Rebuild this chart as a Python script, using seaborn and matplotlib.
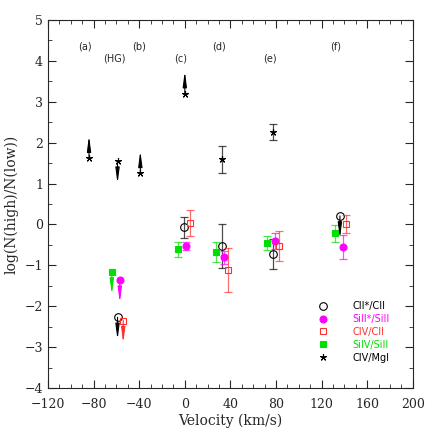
import numpy as np
import pandas as pd
import seaborn as sns
import matplotlib.pyplot as plt
from matplotlib.ticker import MultipleLocator

# ratio data: velocity (km/s), log ratio, error, limit flag
cii_v = [-59, -1, 33, 77, 136]
cii_y = [-2.27, -0.07, -0.53, -0.72, 0.21]
cii_e = [0, 0.25, 0.54, 0.36, 0]
cii_lim = ['down', None, None, None, 'down']

siii_v = [-57, 1, 34.6, 79.3, 138.4]
siii_y = [-1.36, -0.53, -0.80, -0.40, -0.55]
siii_e = [0, 0.1, 0.16, 0.2, 0.3]
siii_lim = ['down', None, None, None, None]

civc_v = [-54, 4.5, 37.8, 82.5, 141.3]
civc_y = [-2.35, 0.03, -1.12, -0.53, 0.0]
civc_e = [0, 0.32, 0.54, 0.37, 0.22]
civc_lim = ['down', None, None, None, None]

siiv_v = [-64, -6, 27.6, 72.3, 131.4]
siiv_y = [-1.16, -0.61, -0.67, -0.45, -0.22]
siiv_e = [0, 0.18, 0.25, 0.17, 0.2]
siiv_lim = ['down', None, None, None, None]

civm_v = [-84, -59, -39, 0, 33, 77]
civm_y = [1.62, 1.55, 1.25, 3.2, 1.6, 2.27]
civm_e = [0, 0, 0, 0, 0.33, 0.2]
civm_lim = ['up', 'down', 'up', 'up', None, None]

comp_labels = ['(a)', '(HG)', '(b)', '(c)', '(d)', '(e)', '(f)']
comp_v = [-88, -62, -40, -4, 30, 75, 132]
comp_y = [4.35, 4.05, 4.35, 4.05, 4.35, 4.05, 4.35]

series = [
    ('CII*/CII', cii_v, cii_y, cii_e, cii_lim, 'black', 'o', 'none', 5.5),
    ('SiII*/SiII', siii_v, siii_y, siii_e, siii_lim, '#ff00ff', 'o', '#ff00ff', 5),
    ('CIV/CII', civc_v, civc_y, civc_e, civc_lim, '#ff3030', 's', 'none', 4.3),
    ('SiIV/SiII', siiv_v, siiv_y, siiv_e, siiv_lim, '#00e000', 's', '#00e000', 4),
    ('CIV/MgI', civm_v, civm_y, civm_e, civm_lim, 'black', (5, 2, 0), 'black', 5),
]

sns.set_style('ticks')
plt.rcParams['font.family'] = ['DejaVu Serif']

fig = plt.figure(figsize=(4.36, 4.36), dpi=100)
ax = fig.add_axes([0.110, 0.110, 0.837, 0.844])

arrow_len = 0.55
handles = []
for name, v, y, e, lim, col, mk, fc, ms in series:
    df = pd.DataFrame({'v': v, 'y': y, 'e': e})
    has_err = df['e'] > 0
    ax.errorbar(df.loc[has_err, 'v'], df.loc[has_err, 'y'], yerr=df.loc[has_err, 'e'],
                fmt='none', ecolor=col, elinewidth=0.9, capsize=3, capthick=0.9, alpha=0.7)
    for vi, yi, li in zip(v, y, lim):
        if li is None:
            continue
        dy = arrow_len if li == 'up' else -arrow_len
        ax.annotate('', xy=(vi, yi + dy), xytext=(vi, yi),
                    arrowprops=dict(arrowstyle='-|>,head_length=0.9,head_width=0.12',
                                    color=col, lw=0.8, shrinkA=0, shrinkB=0))
    h, = ax.plot(df['v'], df['y'], linestyle='none', marker=mk, markersize=ms,
                 markerfacecolor=fc, markeredgecolor=col, markeredgewidth=0.8, label=name)
    handles.append(h)

for lab, v, y in zip(comp_labels, comp_v, comp_y):
    ax.text(v, y, lab, ha='center', va='center', fontsize=7, family='DejaVu Sans')

leg = ax.legend(handles=handles, loc='lower right', bbox_to_anchor=(0.96, 0.045),
                frameon=False, handletextpad=2.0, labelspacing=0.3,
                labelcolor=['black', '#ff00ff', '#ff3030', '#00e000', 'black'],
                prop={'family': 'DejaVu Sans', 'size': 7})

ax.set_xlim(-120, 200)
ax.set_ylim(-4, 5)
ax.xaxis.set_major_locator(MultipleLocator(40))
ax.xaxis.set_minor_locator(MultipleLocator(10))
ax.yaxis.set_major_locator(MultipleLocator(1))
ax.yaxis.set_minor_locator(MultipleLocator(0.5))
ax.tick_params(which='both', direction='in', top=True, right=True, labelsize=9)
ax.tick_params(axis='x', pad=7)
ax.tick_params(which='major', length=6)
ax.tick_params(which='minor', length=3)
ax.set_xlabel('Velocity (km/s)', fontsize=10, labelpad=2)
ax.set_ylabel('log(N(high)/N(low))', fontsize=10)

fig.savefig('out.png', dpi=100)
